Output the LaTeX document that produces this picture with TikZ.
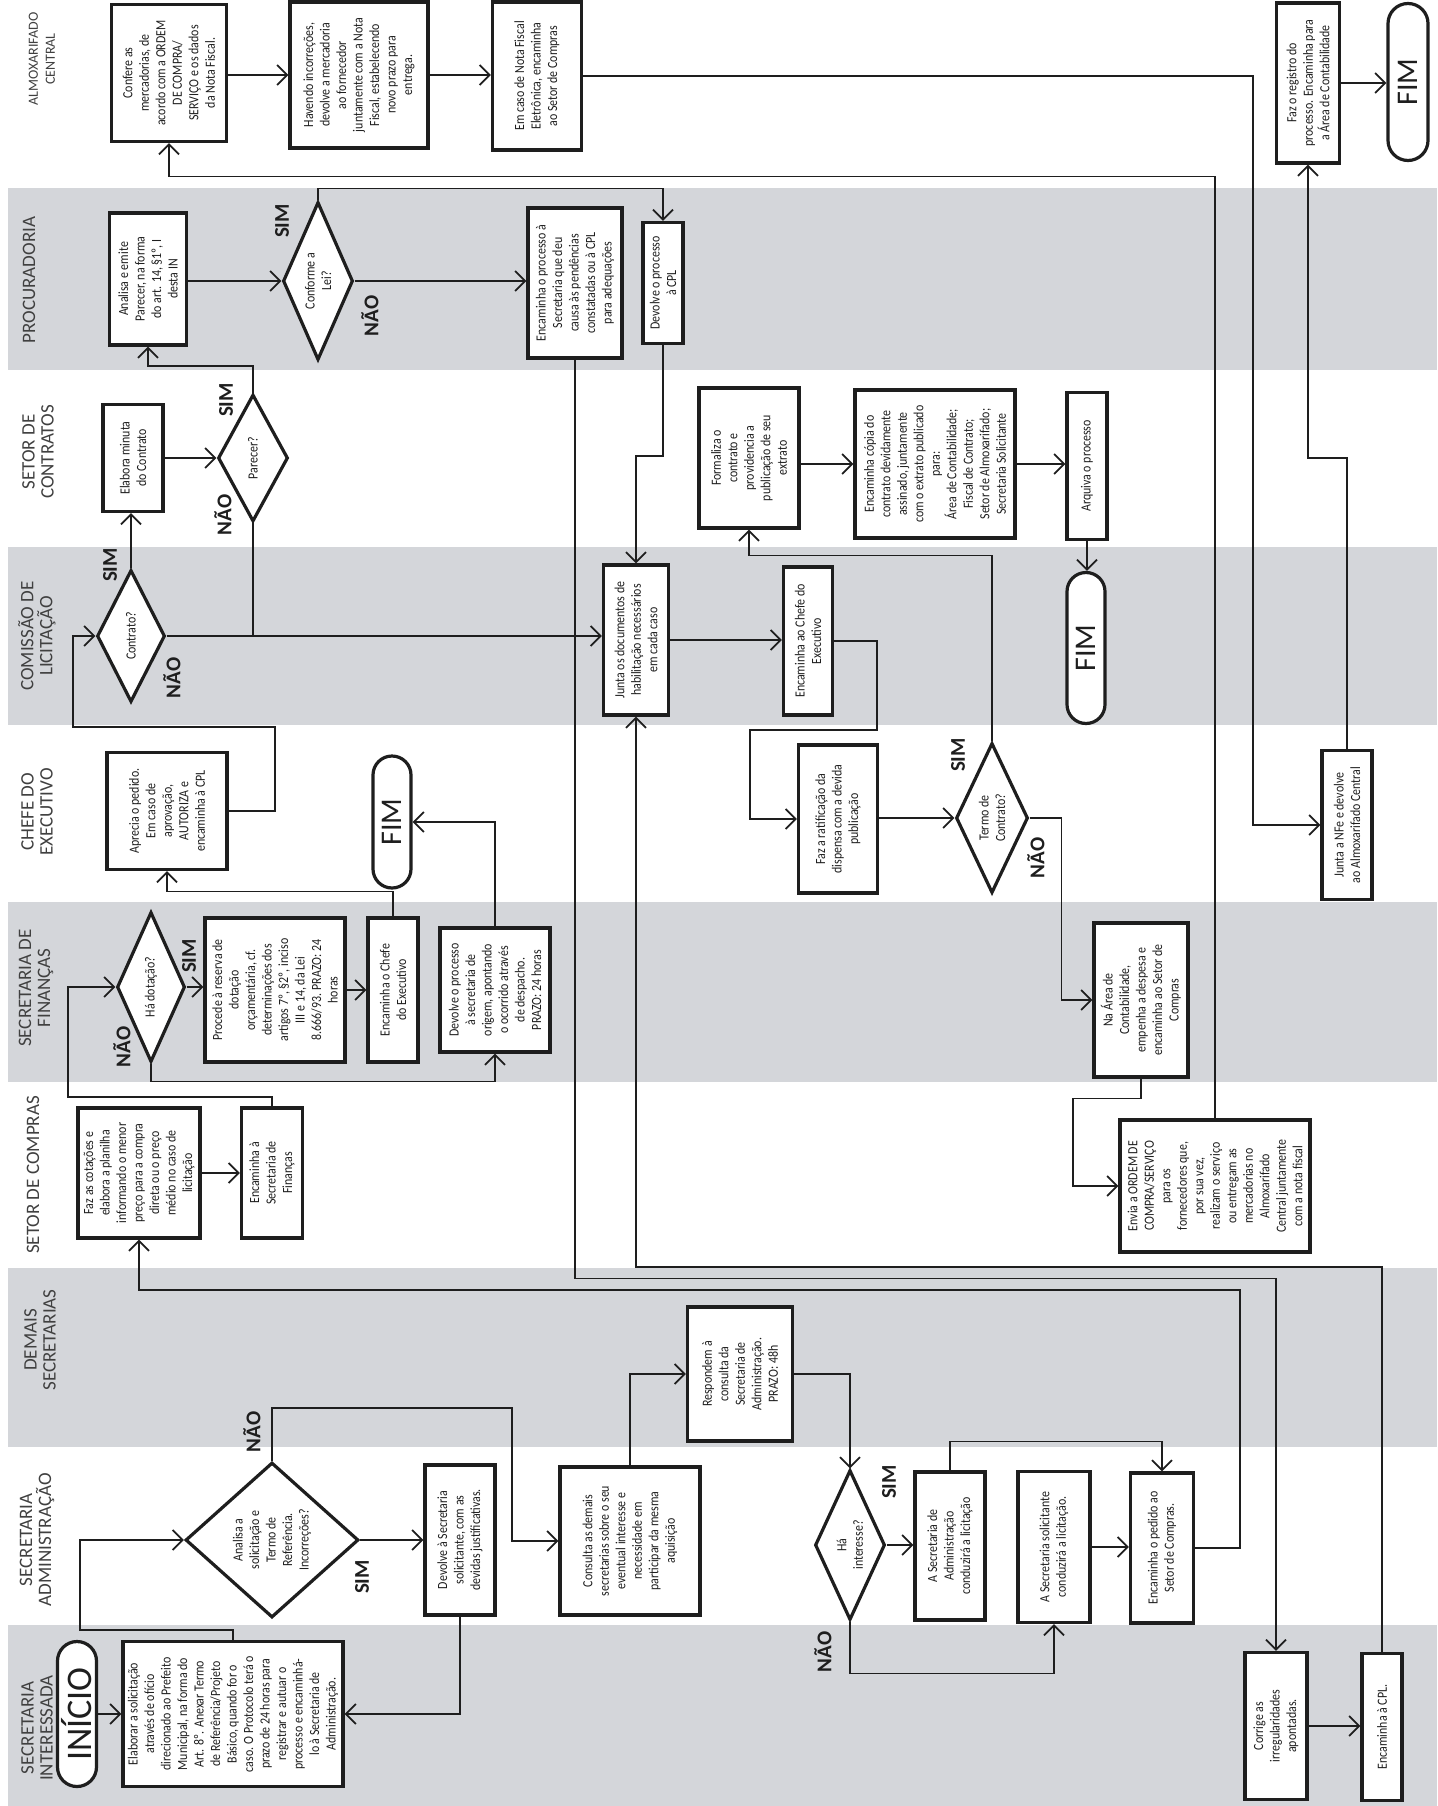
\documentclass[tikz,border=0pt]{standalone}
\usepackage{fontspec}
\setmainfont{Carlito}
\newfontfamily\boxfont[FakeStretch=0.85]{Carlito}
\usetikzlibrary{arrows.meta,shapes.geometric,shapes.misc}
\definecolor{bandgray}{RGB}{212,214,218}
\definecolor{ink}{RGB}{30,30,30}
\newcommand\mybox[6]{\node[bxs,minimum width=#5pt,minimum height=#4pt] (#1) at (#2,#3) {#6};}
\newcommand\mydia[6]{\node[dms,minimum width=#5pt,minimum height=#4pt] (#1) at (#2,#3) {#6};}
\newcommand\myterm[7]{\node[tms,minimum width=#5pt,minimum height=#4pt,font=\fontsize{#7}{#7}\selectfont] (#1) at (#2,#3) {#6};}
\begin{document}
\begin{tikzpicture}[x=1pt,y=-1pt,
  bxs/.style={draw=ink, line width=3.2pt, fill=white, rotate=90, align=center, inner sep=1pt, text=ink, font=\boxfont\fontsize{14}{16.5}\selectfont},
  dms/.style={draw=ink, diamond, aspect=2, line width=3.2pt, fill=white, rotate=90, align=center, inner sep=0pt, text=ink, font=\boxfont\fontsize{14}{16.5}\selectfont},
  tms/.style={draw=ink, rounded rectangle, line width=3.2pt, fill=white, rotate=90, inner sep=0pt, text=ink},
  arr/.style={draw=ink, line width=1.6pt, -{Straight Barb[length=10pt,width=20pt,line width=1.8pt]}},
  ln/.style={draw=ink, line width=1.6pt},
  lbl/.style={rotate=90, align=center, text=ink!85, font=\fontsize{19}{19}\selectfont},
  yn/.style={rotate=90, text=ink, font=\bfseries\fontsize{21}{21}\selectfont},
  band/.style={fill=bandgray}
]
\useasboundingbox (0,0) rectangle (1437,1806);
\fill[white] (0,0) rectangle (1437,1806);
% lane bands
\fill[band] (8,188) rectangle (1437,370);
\fill[band] (8,547) rectangle (1437,725);
\fill[band] (8,902) rectangle (1437,1082);
\fill[band] (8,1268) rectangle (1437,1447);
\fill[band] (8,1625) rectangle (1437,1806);
% lane labels
\node[lbl,font=\fontsize{14}{17}\selectfont] (L1) at (42,59) {ALMOXARIFADO\\CENTRAL};
\node[lbl] (L2) at (29,280) {PROCURADORIA};
\node[lbl] (L3) at (38,452) {SETOR DE\\CONTRATOS};
\node[lbl] (L4) at (37,636) {COMISSÃO DE\\LICITAÇÃO};
\node[lbl] (L5) at (37,812) {CHEFE DO\\EXECUTIVO};
\node[lbl] (L6) at (36,988) {SECRETARIA DE\\FINANÇAS};
\node[lbl] (L7) at (33,1175) {SETOR DE COMPRAS};
\node[lbl] (L8) at (40,1340) {DEMAIS\\SECRETARIAS};
\node[lbl] (L9) at (37,1540) {SECRETARIA\\ADMINISTRAÇÃO};
\node[lbl] (L10) at (37,1728) {SECRETARIA\\INTERESSADA};
% Almoxarifado
\mybox{a1}{169}{73}{115}{137}{Confere as\\mercadorias, de\\acordo com a ORDEM\\DE COMPRA/\\SERVIÇO e os dados\\da Nota Fiscal.}
\mybox{a2}{359}{75}{138}{146}{Havendo incorreções,\\devolve a mercadoria\\ao fornecedor\\juntamente com a Nota\\Fiscal, estabelecendo\\novo prazo para\\entrega.}
\mybox{a3}{537}{76}{89}{148}{Em caso de Nota Fiscal\\Eletrônica, encaminha\\ao Setor de Compras}
\mybox{a4}{1308}{83}{63}{160}{Faz o registro do\\processo. Encaminha para\\a Área de Contabilidade}
\myterm{fim1}{1408}{82}{40}{157}{FIM}{30}
% Procuradoria
\mybox{p1}{148}{279}{77}{132}{Analisa e emite\\Parecer, na forma\\do art. 14, §1º, I\\desta IN}
\mydia{pd}{318}{281}{70}{158}{Conforme a\\Lei?}
\mybox{p2}{575}{283}{94}{150}{Encaminha o processo à\\Secretaria que deu\\causa às pendências\\constatadas ou à CPL\\para adequações}
\mybox{p3}{663}{283}{40}{121}{Devolve o processo\\à CPL}
% Setor de contratos
\mybox{c1}{133}{458}{60}{107}{Elabora minuta\\do Contrato}
\mydia{cd}{253}{458}{70}{127}{Parecer?}
\mybox{c2}{749}{458}{100}{140}{Formaliza o\\contrato e\\providencia a\\publicação de seu\\extrato}
\mybox{c3}{935}{464}{160}{148}{Encaminha cópia do\\contrato devidamente\\assinado, juntamente\\com o extrato publicado\\para:\\Área de Contabilidade;\\Fiscal de Contrato;\\Setor de Almoxarifado;\\Secretaria Solicitante}
\mybox{c4}{1087}{466}{40}{147}{Arquiva o processo}
% Comissao
\mydia{ld}{131}{636}{68}{132}{Contrato?}
\mybox{l1}{636}{640}{65}{150}{Junta os documentos de\\habilitação necessários\\em cada caso}
\mybox{l2}{808}{641}{49}{148}{Encaminha ao Chefe do\\Executivo}
\myterm{fim2}{1086}{648}{38}{151}{FIM}{30}
% Chefe do executivo
\mybox{e1}{167}{811}{120}{117}{Aprecia o pedido.\\Em caso de\\aprovação,\\AUTORIZA e\\encaminha à CPL}
\myterm{fim3}{392}{822}{38}{132}{FIM}{30}
\mybox{e2}{838}{819}{79}{148}{Faz a ratificação da\\dispensa com a devida\\publicação}
\mydia{ed}{992}{818}{72}{150}{Termo de\\Contrato?}
\mybox{e3}{1347}{825}{50}{149}{Junta a NFe e devolve\\ao Almoxarifado Central}
% Financas
\mydia{fd}{151}{987}{68}{150}{Há dotação?}
\mybox{f1}{275}{990}{140}{144}{Procede à reserva de\\dotação\\orçamentária, cf.\\determinações dos\\artigos 7º, §2º, inciso\\III e 14, da Lei\\8.666/93. PRAZO: 24\\horas}
\mybox{f2}{393}{990}{50}{144}{Encaminha o Chefe\\do Executivo}
\mybox{f3}{495}{990}{110}{124}{Devolve o processo\\à secretaria de\\origem, apontando\\o ocorrido através\\de despacho.\\PRAZO: 24 horas}
\mybox{f4}{1141}{1000}{94}{154}{Na Área de\\Contabilidade,\\empenha a despesa e\\encaminha ao Setor de\\Compras}
% Setor de compras
\mybox{s1}{139}{1173}{122}{130}{Faz as cotações e\\elabora a planilha\\informando o menor\\preço para a compra\\direta ou o preço\\médio no caso de\\licitação}
\mybox{s2}{272}{1173}{61}{130}{Encaminha à\\Secretaria de\\Finanças}
\mybox{s3}{1215}{1186}{190}{132}{Envia a ORDEM DE\\COMPRA/SERVIÇO\\para os\\fornecedores que,\\por sua vez,\\realizam o serviço\\ou entregam as\\mercadorias no\\Almoxarifado\\Central juntamente\\com a nota fiscal}
% Demais secretarias
\mybox{d1}{740}{1374}{105}{134}{Respondem à\\consulta da\\Secretaria de\\Administração.\\PRAZO: 48h}
% Secretaria administracao
\node[dms,aspect=0.9,minimum width=155pt,minimum height=173pt] (md) at (272,1540) {Analisa a\\solicitação e\\Termo de\\Referência.\\Incorreções?};
\mybox{m1}{460}{1540}{70}{150}{Devolve à Secretaria\\solicitante, com as\\devidas justificativas.}
\mybox{m2}{630}{1541}{140}{148}{Consulta as demais\\secretarias sobre o seu\\eventual interesse e\\necessidade em\\participar da mesma\\aquisição}
\mydia{mh}{850}{1545}{70}{150}{Há\\interesse?}
\mybox{m3}{950}{1546}{70}{148}{A Secretaria de\\Administração\\conduzirá a licitação}
\mybox{m4}{1054}{1547}{72}{151}{A Secretaria solicitante\\conduzirá a licitação.}
\mybox{m5}{1162}{1548}{63}{150}{Encaminha o pedido ao\\Setor de Compras.}
% Secretaria interessada
\myterm{inicio}{77}{1714}{39}{145}{INÍCIO}{36}
\mybox{i1}{233}{1714}{220}{145}{Elaborar a solicitação\\através de ofício\\direcionado ao Prefeito\\Municipal, na forma do\\Art. 8º. Anexar Termo\\de Referência/Projeto\\Básico, quando for o\\caso. O Protocolo terá o\\prazo de 24 horas para\\registrar e autuar o\\processo e encaminhá-\\lo à Secretaria de\\Administração.}
\mybox{i2}{1276}{1726}{62}{147}{Corrige as\\irregularidades\\apontadas.}
\mybox{i3}{1382}{1727}{40}{147}{Encaminha à CPL.}
% bend coordinates
\coordinate (r1) at (80,1630);
\coordinate (r2) at (512,1408);
\coordinate (r4) at (1240,1290);
\coordinate (r5) at (68,1097);
\coordinate (r6) at (275,727);
\coordinate (r7) at (73,727);
\coordinate (r9) at (877,730);
\coordinate (r10) at (750,730);
% connectors
\draw[arr] (inicio) -- (i1);
\draw[arr] (i1.east) |- (r1) |- (md.north);
\draw[arr] (md.south) -- (md.south -| m1.north);
\draw[arr] (m1.west) |- (i1.south);
\draw[arr] (md.east) |- (r2) |- (m2.north);
\draw[arr] (m2.east) |- (d1.north);
\draw[arr] (d1.south) -| (mh.east);
\draw[arr] (mh.south) -- (mh.south -| m3.north);
\draw[arr] (mh.west) -- ++(0,52) -| (m4.west);
\draw[arr] (m4.south) -- (m4.south -| m5.north);
\draw[arr] (m3.east) -- ++(0,-29) -| (m5.east);
\draw[arr] (m5.south) -| (r4) -| (s1.west);
\draw[arr] (s1.south) -- (s1.south -| s2.north);
\draw[arr] (s2.east) |- (r5) |- (fd.north);
\draw[arr] (fd.south) -- (fd.south -| f1.north);
\draw[arr] (f1.south) -- (f1.south -| f2.north);
\draw[arr] (f2.east) -- ++(0,-25) -| (e1.west);
\draw[arr] (fd.west) -- ++(0,18) -| (f3.west);
\draw[arr] (f3.east) |- (fim3.south);
\draw[arr] (e1.south) -| (r6) -- (r7) |- (ld.north);
\draw[arr] (ld.east) -- (ld.east |- c1.west);
\draw[arr] (ld.south) -- (ld.south -| l1.north);
\draw[arr] (c1.south) -- (c1.south -| cd.north);
\draw[ln] (cd.west) -- (cd.west |- ld.south);
\draw[arr] (cd.east) -- ++(0,-27) -| (p1.west);
\draw[arr] (p1.south |- pd.north) -- (pd.north);
\draw[arr] (pd.south) -- (pd.south -| p2.north);
\draw[arr] (pd.east) -- ++(0,-12) -| (p3.east);
\draw[arr] (p3.west) -- ++(0,111) -| (l1.east);
\draw[arr] (p2.west) -- ++(0,919) -| (i2.east);
\draw[arr] (i2.south) -- (i2.south -| i3.north);
\draw[arr] (i3.east) -- ++(0,-385) -| (l1.west);
\draw[arr] (l1.south) -- (l1.south -| l2.north);
\draw[arr] (l2.south) -| (r9) -- (r10) |- (e2.north);
\draw[arr] (e2.south |- ed.north) -- (ed.north);
\draw[arr] (ed.east) -- ++(0,-186) -| (c2.west);
\draw[arr] (c2.south |- c3.north) -- (c3.north);
\draw[arr] (c3.south) -- (c3.south -| c4.north);
\draw[arr] (c4.west) -- (c4.west |- fim2.east);
\draw[arr] (ed.south) -- ++(32,0) |- (f4.north);
\draw[arr] (f4.west) -- ++(0,20) -- ++(-68,0) |- (s3.north);
\draw[arr] (s3.east) -- ++(0,-942) -| (a1.west);
\draw[arr] (a1.south |- a2.north) -- (a2.north);
\draw[arr] (a2.south) -- (a2.south -| a3.north);
\draw[arr] (a3.south) -- ++(670,0) |- (e3.north);
\draw[arr] (e3.east) -- ++(0,-291) -| (a4.west);
\draw[arr] (a4.south) -- (a4.south -| fim1.north);
% SIM / NAO labels
\node[yn] (y1) at (282,221) {SIM};
\node[yn] (n1) at (370,316) {NÃO};
\node[yn] (y2) at (226,400) {SIM};
\node[yn] (n2) at (223,515) {NÃO};
\node[yn] (y3) at (110,565) {SIM};
\node[yn] (n3) at (172,678) {NÃO};
\node[yn] (y4) at (958,755) {SIM};
\node[yn] (n4) at (1036,858) {NÃO};
\node[yn] (y5) at (189,956) {SIM};
\node[yn] (n5) at (122,1047) {NÃO};
\node[yn] (n6) at (252,1432) {NÃO};
\node[yn] (y6) at (362,1577) {SIM};
\node[yn] (y7) at (889,1482) {SIM};
\node[yn] (n7) at (823,1652) {NÃO};
\end{tikzpicture}
\end{document}
